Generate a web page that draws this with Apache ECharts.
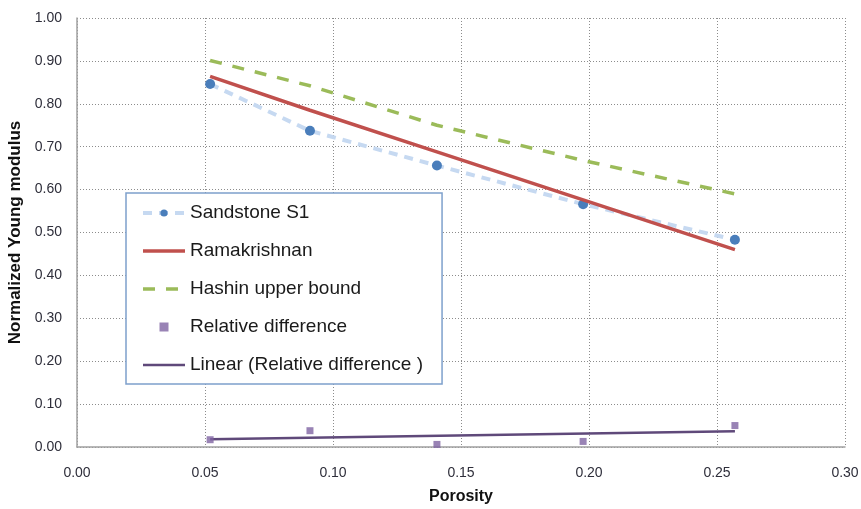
<!DOCTYPE html>
<html>
<head>
<meta charset="utf-8">
<script src="https://cdn.jsdelivr.net/npm/echarts@6/dist/echarts.min.js"></script>
<style>
  html, body { margin: 0; padding: 0; background: #fff; }
  #chart { width: 861px; height: 509px; }
</style>
</head>
<body>
<div id="chart"></div>
<script>
// Porosity of the samples
const porosity = [0.052, 0.091, 0.1406, 0.1977, 0.257];
// Measured normalized Young modulus
const sandstoneS1 = [0.846, 0.737, 0.656, 0.566, 0.483];
// Ramakrishnan model
const ramakrishnan = [0.864, 0.785, 0.688, 0.576, 0.460];
// Hashin upper bound
const hashinUpper = [0.901, 0.842, 0.750, 0.668, 0.590];
// Relative difference between measurement and model
const relativeDiff = [0.017, 0.038, 0.006, 0.013, 0.050];
// Linear trend of the relative difference (end points)
const trendX = [0.052, 0.257];
const trendY = [0.018, 0.037];

const xTicks = { min: 0, max: 0.30, interval: 0.05 };
const yTicks = { min: 0, max: 1.00, interval: 0.10 };

const pairs = (xs, ys) => xs.map((x, i) => [x, ys[i]]);

const chart = echarts.init(document.getElementById('chart'));
const font = '"Liberation Sans", Arial, sans-serif';
const gridLine = { show: true, lineStyle: { color: '#8c8c8c', type: [1, 2], width: 1 } };
const hiddenSymbol = { opacity: 0 };

chart.setOption({
  animation: false,
  backgroundColor: '#ffffff',
  grid: { left: 77, right: 16, top: 18, bottom: 62, containLabel: false, outerBoundsMode: 'none' },
  xAxis: {
    type: 'value', min: xTicks.min, max: xTicks.max, interval: xTicks.interval,
    name: 'Porosity', nameLocation: 'middle', nameGap: 42,
    nameTextStyle: { fontFamily: font, fontWeight: 'bold', fontSize: 16, color: '#111' },
    axisLine: { show: true, lineStyle: { color: '#a0a0a0', width: 1.5 } },
    axisTick: { show: false },
    axisLabel: { formatter: v => v.toFixed(2), fontFamily: font, fontSize: 14, color: '#2e2e3a', margin: 19 },
    splitLine: gridLine
  },
  yAxis: {
    type: 'value', min: yTicks.min, max: yTicks.max, interval: yTicks.interval,
    name: 'Normalized Young modulus', nameLocation: 'middle', nameGap: 49,
    nameTextStyle: { fontFamily: font, fontWeight: 'bold', fontSize: 17, color: '#111' },
    axisLine: { show: true, lineStyle: { color: '#a0a0a0', width: 1.5 } },
    axisTick: { show: false },
    axisLabel: { formatter: v => v.toFixed(2), fontFamily: font, fontSize: 14, color: '#2e2e3a', margin: 15 },
    splitLine: gridLine
  },
  legend: {
    orient: 'vertical', left: 126, top: 193,
    backgroundColor: '#ffffff', borderColor: '#7ea0cc', borderWidth: 1.5,
    padding: [10, 19, 9, 15], itemGap: 18, itemWidth: 42, itemHeight: 9,
    lineStyle: { width: 'inherit' },
    textStyle: { fontFamily: font, fontSize: 19, lineHeight: 20, color: '#1a1a1a' },
    data: [
      { name: 'Sandstone S1' },
      { name: 'Ramakrishnan', itemStyle: hiddenSymbol },
      { name: 'Hashin upper bound', itemStyle: hiddenSymbol },
      { name: 'Relative difference', icon: 'path://M0,0h10v10h-10z' },
      { name: 'Linear (Relative difference )', itemStyle: hiddenSymbol }
    ]
  },
  series: [
    {
      name: 'Sandstone S1', type: 'line', data: pairs(porosity, sandstoneS1),
      symbol: 'circle', symbolSize: 10,
      itemStyle: { color: '#4a7ebb' },
      lineStyle: { color: '#c6d9f1', width: 4, type: [9, 7] },
      z: 3
    },
    {
      name: 'Ramakrishnan', type: 'line', data: pairs(porosity, ramakrishnan),
      symbol: 'none', itemStyle: { color: '#c0504d' },
      lineStyle: { color: '#c0504d', width: 3.5 }, z: 4
    },
    {
      name: 'Hashin upper bound', type: 'line', data: pairs(porosity, hashinUpper),
      symbol: 'none', itemStyle: { color: '#9bbb59' },
      lineStyle: { color: '#9bbb59', width: 3.5, type: [12, 11] }, z: 2
    },
    {
      name: 'Relative difference', type: 'scatter', data: pairs(porosity, relativeDiff),
      symbol: 'rect', symbolSize: 7, itemStyle: { color: '#8064a2' }, z: 5
    },
    {
      name: 'Linear (Relative difference )', type: 'line', data: pairs(trendX, trendY),
      symbol: 'none', itemStyle: { color: '#5f497a' },
      lineStyle: { color: '#5f497a', width: 2.5 }, z: 4
    }
  ]
});
</script>
</body>
</html>
